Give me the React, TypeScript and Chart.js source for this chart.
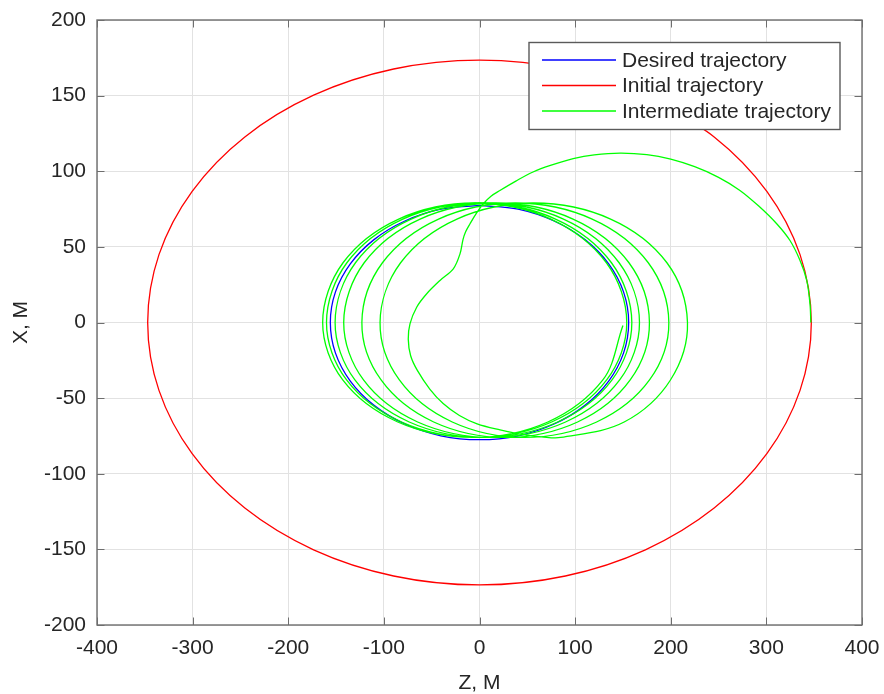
import React, { useEffect, useRef } from 'react';
import { Chart, registerables } from 'chart.js';

Chart.register(...registerables);

// ---- Data (Z = horizontal, X = vertical) ----
const desiredZ = [0, -40.4, -78, -110.3, -135.1, -150.7, -156, -150.7, -135.1, -110.3, -78, -40.4, 0, 40.4, 78, 110.3, 135.1, 150.7, 156, 150.7, 135.1, 110.3, 78, 40.4, 0];
const desiredX = [77.5, 74.9, 67.1, 54.8, 38.75, 20.1, 0, -20.1, -38.75, -54.8, -67.1, -74.9, -77.5, -74.9, -67.1, -54.8, -38.75, -20.1, 0, 20.1, 38.75, 54.8, 67.1, 74.9, 77.5];

const initialZ = [173.5, 89.8, 0, -89.8, -173.5, -245.4, -300.5, -335.2, -347, -335.2, -300.5, -245.4, -173.5, -89.8, 0, 89.8, 173.5, 245.4, 300.5, 335.2, 347, 335.2, 300.5, 245.4, 173.5];
const initialX = [150.3, 167.6, 173.5, 167.6, 150.3, 122.7, 86.75, 44.9, 0, -44.9, -86.75, -122.7, -150.3, -167.6, -173.5, -167.6, -150.3, -122.7, -86.75, -44.9, 0, 44.9, 86.75, 122.7, 150.3];

const interZ = [
  346.5, 345.6, 342.2, 335.2, 324.7, 310.8, 292, 272, 250, 225, 200, 175, 147, 120, 98, 75,
  56, 38, 21.4, 12, 4, -3, -9.9, -14.5, -17.2, -20.4, -27.4, -41.3, -55.2, -65.7, -72.7, -74.5,
  -72, -65, -52, -38, -21, -2.5, 21.5, 46, 65, 85, 151.3, 199.7, 217.5,
  196, 137.1, 56.8, -23.6, -82.5, -104,
  -83.8, -28.5, 47, 122.5, 177.8, 198,
  176.5, 117.8, 37.5, -42.8, -101.5, -123,
  -102.9, -47.9, 27.4, 102.6, 157.6, 177.7,
  156.3, 97.8, 17.9, -62.1, -120.6, -142,
  -121.3, -64.7, 12.7, 90, 146.6, 167.3,
  146, 87.8, 8.2, -71.5, -129.7, -151,
  -130.3, -73.5, 4.2, 81.8, 138.6, 159.3,
  138, 79.5, -0.4, -80.2, -138.7, -160,
  -139, -81.5, -3, 75.5, 133, 154,
  132.7, 74.5, -5, -84.5, -142.7, -164,
  -143, -85.5, -7, 71.5, 129, 150,
];
const interX = [
  0, 12.4, 27.8, 41, 54.2, 65.3, 77, 87.5, 96, 103, 108, 111, 112, 110.8, 108.3, 104,
  99.5, 93.5, 87.3, 83.5, 78.5, 72.5, 65.3, 60, 55, 45.4, 35.5, 27.8, 19, 10.1, -0.9, -11,
  -22, -31.7, -44, -53.6, -61.5, -67, -71, -74.2, -75.6, -76, -65.8, -38, 0,
  39.5, 68.4, 79, 68.4, 39.5, 0,
  -38, -65.8, -76, -65.8, -38, 0,
  39.5, 68.4, 79, 68.4, 39.5, 0,
  -38, -65.8, -76, -65.8, -38, 0,
  39.5, 68.4, 79, 68.4, 39.5, 0,
  -38, -65.8, -76, -65.8, -38, 0,
  39.5, 68.4, 79, 68.4, 39.5, 0,
  -38, -65.8, -76, -65.8, -38, 0,
  39.5, 68.4, 79, 68.4, 39.5, 0,
  -38, -65.8, -76, -65.8, -38, 0,
  39.5, 68.4, 79, 68.4, 39.5, 0,
  -38, -65.8, -76, -65.8, -38, -2,
];

const seriesLabels = ['Desired trajectory', 'Initial trajectory', 'Intermediate trajectory'];
const seriesColors = ['#0000ff', '#ff0000', '#00ff00'];

const xTitle = 'Z, M';
const yTitle = 'X, M';

const FONT_FAMILY = "'Liberation Sans', Arial, Helvetica, sans-serif";
const TEXT_COLOR = '#262626';
const AXIS_COLOR = '#6e6e6e';
const GRID_COLOR = '#e2e2e2';
const TICK_LEN = 7.5;

const zip = (zs: number[], xs: number[]) => zs.map((z, i) => ({ x: z, y: xs[i] }));

const matlabAxesPlugin = {
  id: 'matlabAxes',
  afterDatasetsDraw(chart: any) {
    const { ctx, chartArea: ca, scales } = chart;
    const xs = scales.x;
    const ys = scales.y;
    ctx.save();
    // inward tick marks on all four sides
    ctx.strokeStyle = AXIS_COLOR;
    ctx.lineWidth = 1;
    ctx.beginPath();
    xs.ticks.forEach((t: any) => {
      const p = Math.round(xs.getPixelForValue(t.value)) + 0.5;
      ctx.moveTo(p, ca.bottom);
      ctx.lineTo(p, ca.bottom - TICK_LEN);
      ctx.moveTo(p, ca.top);
      ctx.lineTo(p, ca.top + TICK_LEN);
    });
    ys.ticks.forEach((t: any) => {
      const p = Math.round(ys.getPixelForValue(t.value)) + 0.5;
      ctx.moveTo(ca.left, p);
      ctx.lineTo(ca.left + TICK_LEN, p);
      ctx.moveTo(ca.right, p);
      ctx.lineTo(ca.right - TICK_LEN, p);
    });
    ctx.stroke();
    // axes box
    ctx.lineWidth = 1.4;
    ctx.strokeRect(ca.left, ca.top, ca.right - ca.left, ca.bottom - ca.top);

    // legend box (north-east, inside)
    const bw = 311;
    const bh = 87;
    const bx = ca.right - 22 - bw;
    const by = ca.top + 22.5;
    ctx.fillStyle = '#ffffff';
    ctx.fillRect(bx, by, bw, bh);
    ctx.strokeStyle = '#5a5a5a';
    ctx.lineWidth = 1.4;
    ctx.strokeRect(bx, by, bw, bh);
    ctx.font = `21px ${FONT_FAMILY}`;
    ctx.textBaseline = 'middle';
    ctx.textAlign = 'left';
    chart.data.datasets.forEach((ds: any, i: number) => {
      const cy = by + 17.5 + i * 25.5;
      ctx.strokeStyle = ds.borderColor;
      ctx.lineWidth = 1.3;
      ctx.beginPath();
      ctx.moveTo(bx + 13, cy);
      ctx.lineTo(bx + 87, cy);
      ctx.stroke();
      ctx.fillStyle = TEXT_COLOR;
      ctx.fillText(ds.label, bx + 93, cy + 1);
    });
    ctx.restore();
  },
};

export default function App() {
  const canvasRef = useRef<HTMLCanvasElement | null>(null);

  useEffect(() => {
    const canvas = canvasRef.current;
    if (!canvas) return;
    const font = { family: FONT_FAMILY, size: 21 };
    const lineDs = (i: number, z: number[], x: number[], tension: number, order: number) => ({
      label: seriesLabels[i],
      data: zip(z, x),
      borderColor: seriesColors[i],
      backgroundColor: seriesColors[i],
      showLine: true,
      pointRadius: 0,
      borderWidth: 1.3,
      tension,
      order,
    });
    const chart = new Chart(canvas, {
      type: 'scatter',
      data: {
        datasets: [
          lineDs(0, desiredZ, desiredX, 0.34, 3),
          lineDs(1, initialZ, initialX, 0.34, 2),
          lineDs(2, interZ, interX, 0.35, 1),
        ],
      },
      options: {
        animation: false,
        responsive: false,
        devicePixelRatio: 1,
        layout: { padding: { left: 0, top: 20, right: 22, bottom: 0 } },
        plugins: {
          legend: { display: false },
          tooltip: { enabled: false },
        },
        events: [],
        scales: {
          x: {
            type: 'linear',
            min: -400,
            max: 400,
            ticks: {
              stepSize: 100,
              autoSkip: false,
              maxRotation: 0,
              padding: 11,
              color: TEXT_COLOR,
              font,
            },
            grid: { color: GRID_COLOR, lineWidth: 1, drawTicks: false },
            border: { display: false },
            title: {
              display: true,
              text: xTitle,
              color: TEXT_COLOR,
              font: { family: FONT_FAMILY, size: 21, lineHeight: 1 },
              padding: { top: 0, bottom: 0 },
            },
            afterFit: (s: any) => {
              s.height = 69;
              s.paddingLeft = 0;
              s.paddingRight = 0;
              s.paddingTop = 0;
              s.paddingBottom = 0;
            },
          },
          y: {
            type: 'linear',
            min: -200,
            max: 200,
            ticks: {
              stepSize: 50,
              autoSkip: false,
              padding: 11,
              color: TEXT_COLOR,
              font,
            },
            grid: { color: GRID_COLOR, lineWidth: 1, drawTicks: false },
            border: { display: false },
            title: {
              display: true,
              text: yTitle,
              color: TEXT_COLOR,
              font: { family: FONT_FAMILY, size: 21, lineHeight: 1 },
              padding: { top: 11, bottom: 0 },
            },
            afterFit: (s: any) => {
              s.width = 97;
              s.paddingLeft = 0;
              s.paddingRight = 0;
              s.paddingTop = 0;
              s.paddingBottom = 0;
            },
          },
        },
      },
      plugins: [matlabAxesPlugin],
    } as any);
    return () => chart.destroy();
  }, []);

  return (
    <div style={{ position: 'fixed', left: 0, top: 0, width: 884, height: 694, background: '#ffffff' }}>
      <canvas ref={canvasRef} width={884} height={694} style={{ display: 'block', width: 884, height: 694 }} />
    </div>
  );
}
